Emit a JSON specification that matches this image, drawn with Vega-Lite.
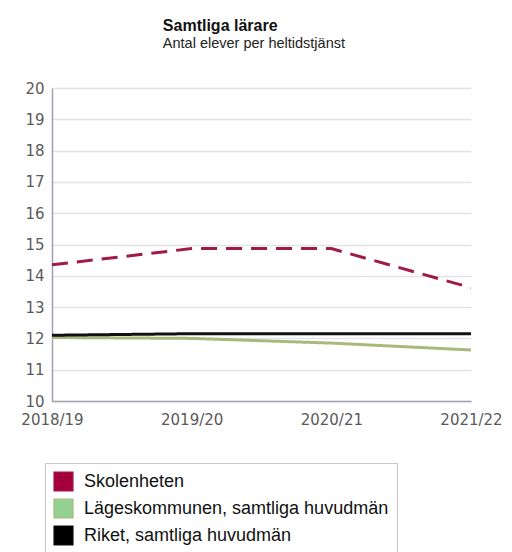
{
  "$schema": "https://vega.github.io/schema/vega-lite/v6.json",
  "autosize": "none",
  "width": 419,
  "height": 313,
  "padding": {"left": 52, "top": 88, "right": 41, "bottom": 151},
  "background": "white",
  "title": {
    "text": "Samtliga lärare",
    "subtitle": "Antal elever per heltidstjänst",
    "anchor": "start",
    "dx": 142,
    "offset": 31,
    "font": "Liberation Sans",
    "fontSize": 16,
    "fontWeight": "bold",
    "color": "#111",
    "subtitleFont": "Liberation Sans",
    "subtitleFontSize": 14.5,
    "subtitleColor": "#222",
    "subtitlePadding": 3
  },
  "data": {
    "values": [
      {"ar": "2018/19", "serie": "Skolenheten", "v": 14.35},
      {"ar": "2019/20", "serie": "Skolenheten", "v": 14.87},
      {"ar": "2020/21", "serie": "Skolenheten", "v": 14.87},
      {"ar": "2021/22", "serie": "Skolenheten", "v": 13.62},
      {"ar": "2018/19", "serie": "Lägeskommunen, samtliga huvudmän", "v": 12.03},
      {"ar": "2019/20", "serie": "Lägeskommunen, samtliga huvudmän", "v": 12.0},
      {"ar": "2020/21", "serie": "Lägeskommunen, samtliga huvudmän", "v": 11.85},
      {"ar": "2021/22", "serie": "Lägeskommunen, samtliga huvudmän", "v": 11.63},
      {"ar": "2018/19", "serie": "Riket, samtliga huvudmän", "v": 12.1},
      {"ar": "2019/20", "serie": "Riket, samtliga huvudmän", "v": 12.15},
      {"ar": "2020/21", "serie": "Riket, samtliga huvudmän", "v": 12.15},
      {"ar": "2021/22", "serie": "Riket, samtliga huvudmän", "v": 12.15}
    ]
  },
  "mark": {"type": "line", "strokeWidth": 3, "clip": true},
  "encoding": {
    "x": {
      "field": "ar",
      "type": "ordinal",
      "scale": {"type": "point", "padding": 0},
      "axis": {
        "title": null,
        "labelAngle": 0,
        "labelFont": "DejaVu Sans",
        "labelFontSize": 15,
        "labelColor": "#5a5a5a",
        "labelPadding": 11,
        "labelOverlap": false,
        "ticks": false,
        "domainColor": "#a0a0b0",
        "domainWidth": 1.5,
        "grid": false
      }
    },
    "y": {
      "field": "v",
      "type": "quantitative",
      "scale": {"domain": [10, 20], "nice": false, "zero": false},
      "axis": {
        "title": null,
        "values": [10, 11, 12, 13, 14, 15, 16, 17, 18, 19, 20],
        "labelOverlap": false,
        "labelFont": "DejaVu Sans",
        "labelFontSize": 15,
        "labelColor": "#5a5a5a",
        "labelPadding": 8,
        "ticks": false,
        "domainColor": "#a0a0b0",
        "domainWidth": 1.5,
        "gridColor": "#e2e2ea",
        "gridWidth": 1.5
      }
    },
    "color": {
      "field": "serie",
      "type": "nominal",
      "sort": ["Skolenheten", "Lägeskommunen, samtliga huvudmän", "Riket, samtliga huvudmän"],
      "scale": {
        "domain": ["Skolenheten", "Lägeskommunen, samtliga huvudmän", "Riket, samtliga huvudmän"],
        "range": ["#a01a45", "#a9b97c", "#111111"]
      },
      "legend": {
        "title": null,
        "orient": "none",
        "legendX": -7,
        "legendY": 375,
        "direction": "vertical",
        "padding": 8,
        "strokeColor": "#c8c8c8",
        "symbolType": "square",
        "symbolSize": 360,
        "symbolStrokeWidth": 1.2,
        "labelFont": "Liberation Sans",
        "labelFontSize": 18,
        "labelColor": "#111",
        "labelOffset": 10,
        "rowPadding": 2,
        "labelLimit": 400,
        "encode": {
          "legend": {
            "update": {
              "width": {"value": 391}
            }
          },
          "symbols": {
            "update": {
              "fill": {"signal": "datum.value === 'Lägeskommunen, samtliga huvudmän' ? '#93d193' : datum.value === 'Skolenheten' ? '#a3003c' : '#000000'"},
              "stroke": {"value": "#333333"},
              "strokeDash": {"value": []},
              "fillOpacity": {"value": 1},
              "opacity": {"value": 1}
            }
          }
        }
      }
    },
    "strokeDash": {
      "condition": {"test": "datum.serie === 'Skolenheten'", "value": [16, 9]},
      "value": [1, 0]
    }
  },
  "config": {"view": {"stroke": null}}
}
